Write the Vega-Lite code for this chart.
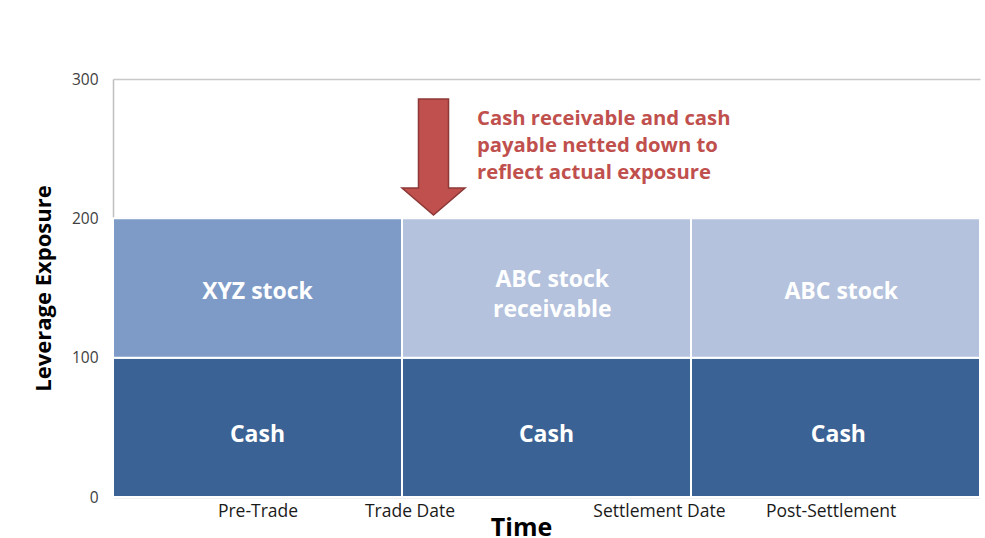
{
  "$schema": "https://vega.github.io/schema/vega-lite/v6.json",
  "width": 867,
  "height": 418,
  "autosize": "none",
  "padding": {"left": 113, "top": 79, "right": 5, "bottom": 41},
  "background": "white",
  "config": {"view": {"stroke": null}, "font": "Open Sans"},
  "datasets": {
    "blocks": [
      {"period": "Pre-Trade", "item": "Cash", "start": 0, "end": 1, "low": 0, "high": 100},
      {"period": "Pre-Trade", "item": "XYZ stock", "start": 0, "end": 1, "low": 100, "high": 200},
      {"period": "Trade Date", "item": "Cash", "start": 1, "end": 2, "low": 0, "high": 100},
      {"period": "Trade Date", "item": "ABC stock receivable", "start": 1, "end": 2, "low": 100, "high": 200},
      {"period": "Post-Settlement", "item": "Cash", "start": 2, "end": 3, "low": 0, "high": 100},
      {"period": "Post-Settlement", "item": "ABC stock", "start": 2, "end": 3, "low": 100, "high": 200}
    ],
    "labels": [
      {"label": "Cash", "xc": 0.5, "yc": 47},
      {"label": "XYZ stock", "xc": 0.5, "yc": 149},
      {"label": "Cash", "xc": 1.5, "yc": 47},
      {"label": "ABC stock\nreceivable", "xc": 1.52, "yc": 158},
      {"label": "Cash", "xc": 2.51, "yc": 47},
      {"label": "ABC stock", "xc": 2.52, "yc": 149}
    ],
    "arrow": [{"x": 1.109, "y": 244}],
    "note": [{"x": 1.2595, "y": 271.3, "text": "Cash receivable and cash\npayable netted down to\nreflect actual exposure"}]
  },
  "encoding": {
    "x": {
      "type": "quantitative",
      "scale": {"domain": [0, 3], "nice": false, "zero": false},
      "axis": {
        "values": [0.5, 1.026, 1.889, 2.483],
        "labelExpr": "datum.value < 0.8 ? 'Pre-Trade' : datum.value < 1.5 ? 'Trade Date' : datum.value < 2.2 ? 'Settlement Date' : 'Post-Settlement'",
        "domain": false, "ticks": false, "grid": false,
        "labelFontSize": 17.5, "labelColor": "#1a1a1a", "labelPadding": 5, "labelFlush": false,
        "title": "Time", "titleFontSize": 25, "titleFontWeight": "bold", "titleColor": "black",
        "titleX": 408, "titleY": 38, "titleAlign": "center", "titleBaseline": "alphabetic"
      }
    },
    "y": {
      "type": "quantitative",
      "scale": {"domain": [0, 300], "nice": false},
      "axis": {
        "values": [0, 100, 200, 300],
        "domain": true, "domainColor": "#bfbfbf", "domainWidth": 1.5,
        "ticks": false, "grid": true, "gridColor": "#c8c8c8", "gridWidth": 1.5,
        "labelFontSize": 15.5, "labelColor": "#404040", "labelPadding": 15,
        "title": "Leverage Exposure", "titleFontSize": 22, "titleFontWeight": "bold", "titleColor": "black",
        "titlePadding": 16
      }
    }
  },
  "layer": [
    {
      "data": {"name": "blocks"},
      "mark": {"type": "rect", "stroke": "white", "strokeWidth": 2},
      "encoding": {
        "x": {"field": "start", "type": "quantitative"},
        "x2": {"field": "end"},
        "y": {"field": "low", "type": "quantitative"},
        "y2": {"field": "high"},
        "color": {
          "field": "item", "type": "nominal",
          "scale": {
            "domain": ["Cash", "XYZ stock", "ABC stock receivable", "ABC stock"],
            "range": ["#3B6294", "#7E9BC7", "#B4C2DD", "#B4C2DD"]
          },
          "legend": null
        }
      }
    },
    {
      "data": {"name": "labels"},
      "mark": {"type": "text", "color": "white", "fontWeight": "bold", "fontSize": 23, "lineBreak": "\n", "lineHeight": 30, "baseline": "middle", "align": "center", "dy": 3},
      "encoding": {
        "x": {"field": "xc", "type": "quantitative"},
        "y": {"field": "yc", "type": "quantitative"},
        "text": {"field": "label"}
      }
    },
    {
      "data": {"name": "arrow"},
      "mark": {
        "type": "point", "filled": true, "opacity": 1,
        "shape": "M-0.259,-1 L0.259,-1 L0.259,0.534 L0.543,0.534 L0,1 L-0.543,0.534 L-0.259,0.534 Z",
        "size": 13456, "fill": "#C0504D", "stroke": "#8C3836", "strokeWidth": 1.5
      },
      "encoding": {
        "x": {"field": "x", "type": "quantitative"},
        "y": {"field": "y", "type": "quantitative"}
      }
    },
    {
      "data": {"name": "note"},
      "mark": {"type": "text", "color": "#C0504D", "fontWeight": "bold", "fontSize": 20.3, "lineBreak": "\n", "lineHeight": 27, "baseline": "middle", "align": "left"},
      "encoding": {
        "x": {"field": "x", "type": "quantitative"},
        "y": {"field": "y", "type": "quantitative"},
        "text": {"field": "text"}
      }
    }
  ]
}
